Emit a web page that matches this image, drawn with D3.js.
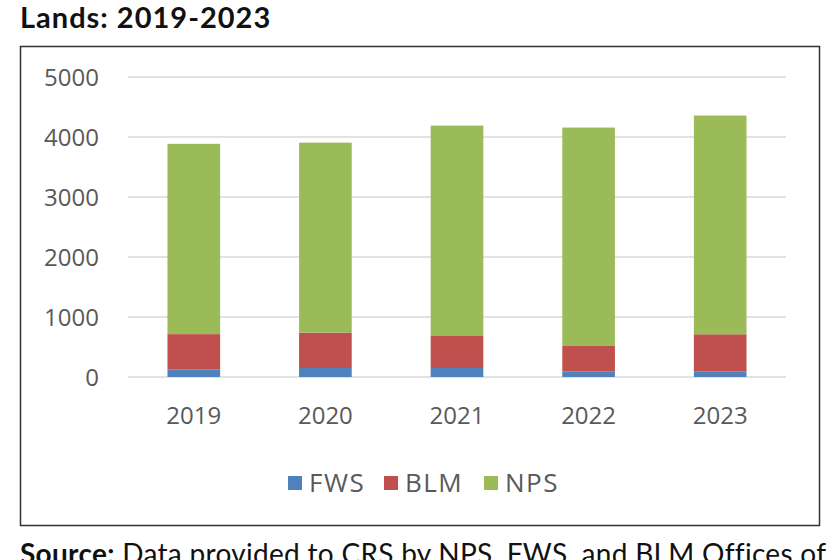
<!DOCTYPE html>
<html>
<head>
<meta charset="utf-8">
<script src="https://cdn.jsdelivr.net/npm/d3@7"></script>
<style>
  body { margin: 0; background: #fff; }
  svg { display: block; }
</style>
</head>
<body>
<div id="chart"></div>
<script>
const years = ["2019", "2020", "2021", "2022", "2023"];
const seriesNames = ["FWS", "BLM", "NPS"];
const fws = [125, 150, 150, 95, 95];
const blm = [590, 590, 533, 422, 617];
const nps = [3171, 3166, 3507, 3640, 3645];
const yTicks = [0, 1000, 2000, 3000, 4000, 5000];
const colors = ["#4f81bd", "#c0504d", "#9bbb59"];

const width = 840;
const height = 560;

const svg = d3.select("#chart")
    .append("svg")
    .attr("width", width)
    .attr("height", height);

// title
svg.append("text")
    .attr("x", 20)
    .attr("y", 28)
    .attr("font-family", "Lato, sans-serif")
    .attr("font-weight", "bold")
    .attr("font-size", "29px")
    .attr("letter-spacing", "1px")
    .attr("fill", "#111")
    .text("Lands: 2019-2023");

// chart frame
svg.append("rect")
    .attr("x", 20.5)
    .attr("y", 46.5)
    .attr("width", 799)
    .attr("height", 479)
    .attr("fill", "none")
    .attr("stroke", "#333")
    .attr("stroke-width", 1.5);

const x = d3.scaleBand()
    .domain(years)
    .range([128, 786])
    .paddingInner(0.6)
    .paddingOuter(0.3);

const y = d3.scaleLinear()
    .domain([0, 5000])
    .range([377, 77]);

// gridlines
svg.append("g")
    .selectAll("line")
    .data(yTicks)
    .join("line")
    .attr("x1", 128)
    .attr("x2", 786)
    .attr("y1", d => y(d))
    .attr("y2", d => y(d))
    .style("stroke", "#d9d9d9")
    .style("stroke-width", 1.5);

// y labels
svg.append("g")
    .selectAll("text")
    .data(yTicks)
    .join("text")
    .attr("x", 99)
    .attr("y", d => y(d))
    .attr("dy", "0.36em")
    .attr("text-anchor", "end")
    .attr("font-family", "'Open Sans', sans-serif")
    .attr("font-size", "24px")
    .attr("fill", "#595959")
    .text(d => d);

// stacked bars
const rows = years.map((yr, i) => ({ year: yr, FWS: fws[i], BLM: blm[i], NPS: nps[i] }));
const stack = d3.stack().keys(seriesNames)(rows);

svg.append("g")
    .selectAll("g")
    .data(stack)
    .join("g")
    .attr("fill", (d, i) => colors[i])
    .selectAll("rect")
    .data(d => d)
    .join("rect")
    .attr("x", d => x(d.data.year))
    .attr("width", x.bandwidth())
    .attr("y", d => y(d[1]))
    .attr("height", d => y(d[0]) - y(d[1]));

// x labels
svg.append("g")
    .selectAll("text")
    .data(years)
    .join("text")
    .attr("x", d => x(d) + x.bandwidth() / 2)
    .attr("y", 424)
    .attr("text-anchor", "middle")
    .attr("font-family", "'Open Sans', sans-serif")
    .attr("font-size", "24px")
    .attr("fill", "#595959")
    .text(d => d);

// legend
const legendX = [288, 384, 484];
const legend = svg.append("g")
    .selectAll("g")
    .data(seriesNames)
    .join("g")
    .attr("transform", (d, i) => `translate(${legendX[i]},483)`);

legend.append("rect")
    .attr("x", 0)
    .attr("y", -7)
    .attr("width", 14)
    .attr("height", 14)
    .attr("fill", (d, i) => colors[i]);

legend.append("text")
    .attr("x", 21)
    .attr("dy", "0.36em")
    .attr("font-family", "'Open Sans', sans-serif")
    .attr("font-size", "26px")
    .attr("letter-spacing", "1.5px")
    .attr("fill", "#595959")
    .text(d => d);

// source line (cut off at bottom like the reference)
const src = svg.append("text")
    .attr("x", 20)
    .attr("y", 564)
    .attr("font-family", "Lato, sans-serif")
    .attr("font-size", "28px")
    .attr("letter-spacing", "0.3px")
    .attr("fill", "#111");
src.append("tspan").attr("font-weight", "bold").text("Source:");
src.append("tspan").text(" Data provided to CRS by NPS, FWS, and BLM Offices of");
</script>
</body>
</html>
